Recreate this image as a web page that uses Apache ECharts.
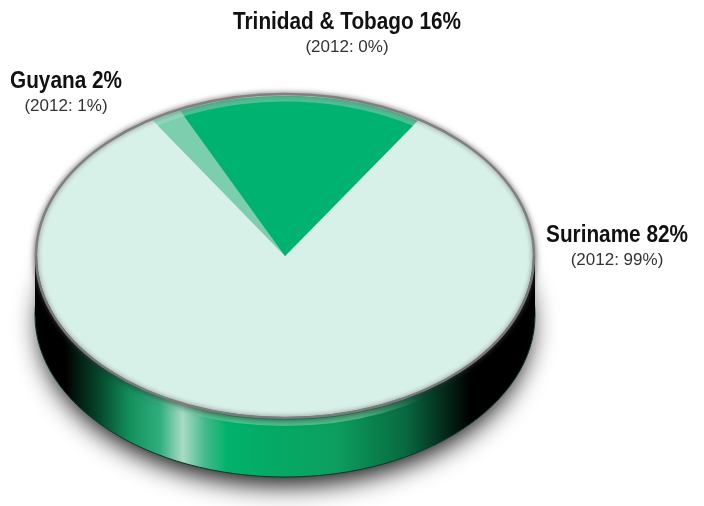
<!DOCTYPE html>
<html>
<head>
<meta charset="utf-8">
<script src="https://cdn.jsdelivr.net/npm/echarts@6/dist/echarts.min.js"></script>
<style>
html, body { margin: 0; padding: 0; background: #fff; }
#main { width: 704px; height: 506px; }
</style>
</head>
<body>
<div id="main"></div>
<script>
// shares, clockwise starting from the right edge of the Trinidad slice
var countries = ['Suriname', 'Guyana', 'Trinidad & Tobago'];
var shares = [82, 2, 16];
var shares2012 = [99, 1, 0];

var sliceColors = ['#d7f0e8', '#7ccfae', '#00b26f'];
var rimColors = ['#d7f0e8', '#8fd8bb', '#4dbf93'];
var labelPos = [[617, 235], [66, 81], [347, 22]];

var cx = 285, cy = 256, rx = 248, ry = 161, depth = 59;
var startDeg = -57.5;
var squash = ry / rx;

function wallGradient() {
    return {
        type: 'linear', x: 0, y: 0, x2: 1, y2: 0,
        colorStops: [
            { offset: 0, color: '#000' },
            { offset: 0.06, color: '#000' },
            { offset: 0.13, color: '#04492c' },
            { offset: 0.19, color: '#13905c' },
            { offset: 0.25, color: '#2fae7c' },
            { offset: 0.296, color: '#a8dcc4' },
            { offset: 0.34, color: '#46b98c' },
            { offset: 0.385, color: '#00b26b' },
            { offset: 0.6, color: '#0c9f5f' },
            { offset: 0.74, color: '#086a40' },
            { offset: 0.87, color: '#000' },
            { offset: 1, color: '#000' }
        ]
    };
}

function renderBody() {
    return {
        type: 'group',
        children: [
            // soft shadow on the floor
            { type: 'ellipse', shape: { cx: cx, cy: cy + depth, rx: rx - 3, ry: ry - 1 },
              style: { fill: '#555', shadowColor: 'rgba(0,0,0,0.95)', shadowBlur: 26, shadowOffsetY: 10 } },
            // side wall
            { type: 'ellipse', shape: { cx: cx, cy: cy + depth, rx: rx + 2, ry: ry + 1 },
              style: { fill: wallGradient(), stroke: '#06392a', lineWidth: 1 } },
            { type: 'rect', shape: { x: cx - rx - 2, y: cy, width: 2 * rx + 4, height: depth },
              style: { fill: wallGradient() } },
            // light band just under the top edge
            { type: 'ellipse', shape: { cx: cx, cy: cy + 6, rx: rx, ry: ry },
              style: {
                  fill: 'none', lineWidth: 6,
                  stroke: {
                      type: 'linear', x: 0, y: 0, x2: 1, y2: 0,
                      colorStops: [
                          { offset: 0.2, color: 'rgba(120,220,170,0)' },
                          { offset: 0.4, color: 'rgba(120,220,170,0.6)' },
                          { offset: 0.65, color: 'rgba(120,220,170,0.6)' },
                          { offset: 0.78, color: 'rgba(120,220,170,0)' }
                      ]
                  }
              } },
            // top plate, its blur falls on the wall
            { type: 'ellipse', shape: { cx: cx, cy: cy, rx: rx, ry: ry },
              style: { fill: '#d7f0e8', shadowColor: 'rgba(0,0,0,0.6)', shadowBlur: 10, shadowOffsetY: 2 } }
        ]
    };
}

function renderEdge() {
    // gray blurred edge drawn over the slices
    return {
        type: 'ellipse',
        shape: { cx: cx, cy: cy, rx: rx + 1, ry: ry + 1 },
        style: { fill: 'none', stroke: 'rgba(125,125,125,0.95)', lineWidth: 2.5,
                 shadowColor: 'rgba(90,90,90,0.9)', shadowBlur: 5 }
    };
}

function renderSlice(params, api) {
    var i = params.dataIndex;
    var total = shares.reduce(function (a, b) { return a + b; }, 0);
    var before = shares.slice(0, i).reduce(function (a, b) { return a + b; }, 0);
    var a0 = (startDeg + before / total * 360) * Math.PI / 180;
    var a1 = a0 + api.value(0) / total * 2 * Math.PI;
    return {
        type: 'group',
        x: cx,
        y: cy,
        scaleY: squash,
        children: [
            { type: 'sector', shape: { cx: 0, cy: 0, r0: 0, r: rx - 1, startAngle: a0, endAngle: a1 },
              style: { fill: rimColors[i] } },
            { type: 'sector', shape: { cx: 0, cy: 0, r0: 0, r: rx - 10, startAngle: a0, endAngle: a1 },
              style: { fill: sliceColors[i] } }
        ]
    };
}

function renderLabel(params, api) {
    var i = params.dataIndex;
    return {
        type: 'group',
        children: [
            { type: 'text', x: labelPos[i][0], y: labelPos[i][1], scaleX: 0.865, style: {
                x: 0, y: 0, align: 'center', verticalAlign: 'middle',
                text: countries[i] + ' ' + api.value(0) + '%',
                font: 'bold 24px "Liberation Sans", sans-serif', fill: '#111'
            } },
            { type: 'text', x: labelPos[i][0], y: labelPos[i][1] + 25, style: {
                x: 0, y: 0, align: 'center', verticalAlign: 'middle',
                text: '(2012: ' + shares2012[i] + '%)',
                font: '17px "Liberation Sans", sans-serif', fill: '#333'
            } }
        ]
    };
}

var chart = echarts.init(document.getElementById('main'));
chart.setOption({
    backgroundColor: '#fff',
    animation: false,
    tooltip: { show: false },
    series: [
        { type: 'custom', coordinateSystem: 'none', silent: true, z: 1, data: [0], renderItem: renderBody },
        { type: 'custom', coordinateSystem: 'none', silent: true, z: 2, data: shares, renderItem: renderSlice },
        { type: 'custom', coordinateSystem: 'none', silent: true, z: 3, data: [0], renderItem: renderEdge },
        { type: 'custom', coordinateSystem: 'none', silent: true, z: 4, data: shares, renderItem: renderLabel }
    ]
});
</script>
</body>
</html>
